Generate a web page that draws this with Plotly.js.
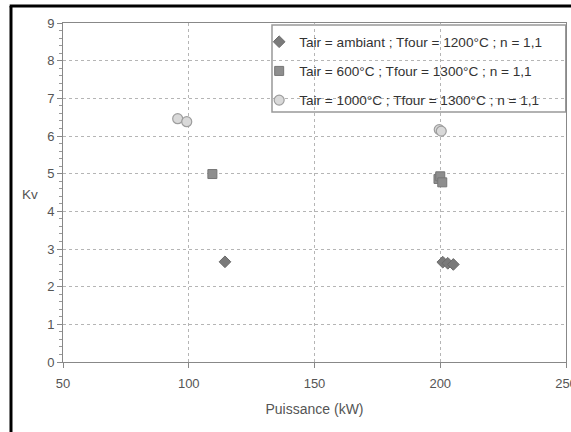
<!DOCTYPE html>
<html><head><meta charset="utf-8">
<script src="https://cdn.plot.ly/plotly-3.0.1.min.js"></script>
<style>html,body{margin:0;padding:0;background:#fff}</style>
</head><body><div id="chart" style="width:571px;height:432px"></div>
<script>
const seriesNames = [
  "Tair = ambiant ; Tfour = 1200°C ; n = 1,1",
  "Tair = 600°C ; Tfour = 1300°C ; n = 1,1",
  "Tair = 1000°C ; Tfour = 1300°C ; n = 1,1"
];
const ambiantX = [114.4, 201.0, 203.0, 205.2];
const ambiantY = [2.66, 2.65, 2.62, 2.59];
const t600X = [109.4, 199.3, 200.0, 200.8];
const t600Y = [4.99, 4.86, 4.93, 4.77];
const t1000X = [95.6, 99.2, 199.6, 200.4];
const t1000Y = [6.46, 6.38, 6.17, 6.13];
const xTicks = [50, 100, 150, 200, 250];
const yTicks = [0, 1, 2, 3, 4, 5, 6, 7, 8, 9];

const FAM = "Liberation Sans, Arial, sans-serif";
const traces = [
  {x: ambiantX, y: ambiantY, name: seriesNames[0], mode: "markers", type: "scatter", legendgroup: "a",
   marker: {symbol: "diamond", size: 9, color: "#7a7a7a", line: {color: "#6a6a6a", width: 1}}},
  {x: t600X, y: t600Y, name: seriesNames[1], mode: "markers", type: "scatter", legendgroup: "b",
   marker: {symbol: "square", size: 9, color: "#8e8e8e", line: {color: "#767676", width: 1}}},
  {x: t1000X, y: t1000Y, name: seriesNames[2], mode: "markers", type: "scatter", legendgroup: "c",
   marker: {symbol: "circle", size: 10, color: "#d9d9d9", line: {color: "#9e9e9e", width: 1.2}}}
];
// plot area: x 63..566 px, y 23..362 px
const layout = {
  width: 571, height: 432,
  margin: {l: 63, r: 5, t: 23, b: 70},
  paper_bgcolor: "#fff", plot_bgcolor: "#fff",
  font: {family: FAM, size: 13, color: "#444"},
  showlegend: true,
  legend: {x: 0.39, y: 0.99, xanchor: "left", yanchor: "top", bgcolor: "rgba(0,0,0,0)",
           borderwidth: 0, font: {family: FAM, size: 13.6, color: "#333"},
           traceorder: "grouped", tracegroupgap: 8.5, itemwidth: 30},
  xaxis: {range: [50, 250], tickvals: xTicks, ticktext: xTicks.map(String),
          showgrid: true, gridcolor: "#b5b5b5", griddash: "dot", gridwidth: 1,
          zeroline: false, showline: true, linecolor: "#888", linewidth: 1, mirror: true,
          ticks: "outside", ticklen: 5, tickcolor: "#888", ticklabeloverflow: "allow", ticklabelstandoff: 4,
          tickfont: {family: FAM, size: 13, color: "#555"},
          title: {text: "Puissance (kW)", font: {family: FAM, size: 14, color: "#555"}, standoff: 14}},
  yaxis: {range: [0, 9], tickvals: yTicks, ticktext: yTicks.map(String),
          showgrid: true, gridcolor: "#b5b5b5", griddash: "dot", gridwidth: 1,
          zeroline: false, showline: true, linecolor: "#888", linewidth: 1, mirror: true,
          ticks: "outside", ticklen: 5, tickcolor: "#888",
          minor: {dtick: 0.2, ticks: "outside", ticklen: 3, tickcolor: "#999", showgrid: false},
          tickfont: {family: FAM, size: 13, color: "#555"}},
  annotations: [{text: "Kv", xref: "paper", yref: "paper", x: -0.0457, y: 0.495, xanchor: "right", yanchor: "middle",
                 showarrow: false, font: {family: FAM, size: 13.5, color: "#555"}}],
  shapes: [
    {type: "line", xref: "paper", yref: "paper", x0: -0.1034, x1: -0.1034, y0: -0.3, y1: 1.05, line: {color: "#000", width: 3}},
    {type: "line", xref: "paper", yref: "paper", x0: -0.106, x1: 1.1, y0: 1.05, y1: 1.05, line: {color: "#000", width: 3}},
    {type: "rect", xref: "paper", yref: "paper", x0: 0.4155, x1: 0.9995, y0: 0.7375, y1: 0.994,
     fillcolor: "#fff", layer: "below", line: {color: "#999", width: 1.5}}
  ]
};
Plotly.newPlot("chart", traces, layout, {displayModeBar: false, staticPlot: true});
</script></body></html>
